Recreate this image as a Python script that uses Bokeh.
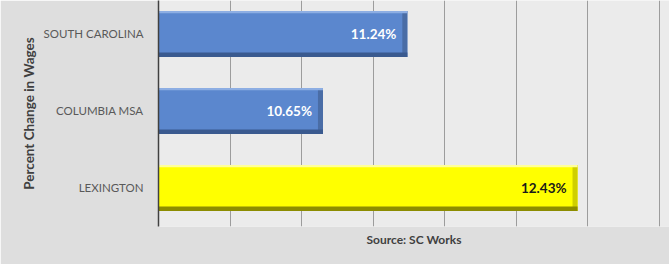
from bokeh.plotting import figure
from bokeh.models import ColumnDataSource, Range1d, FixedTicker, Title
from bokeh.embed import file_html
from bokeh.resources import INLINE
from bokeh.core.properties import value

# ---- data ----
categories = ["SOUTH CAROLINA", "COLUMBIA MSA", "LEXINGTON"]
pct_change = [11.24, 10.65, 12.43]
bar_colors = ["#5B87CE", "#5B87CE", "#FFFF00"]
top_colors = ["#8DAEE3", "#8DAEE3", "#FFFF9A"]
bottom_colors = ["#3A5A8F", "#3A5A8F", "#8C8C00"]
edge_colors = ["#4A6DA6", "#4A6DA6", "#CFCF00"]
label_colors = ["#FFFFFF", "#FFFFFF", "#1A1A1A"]
value_labels = ["11.24%", "10.65%", "12.43%"]
x_ticks = [10.0, 10.5, 11.0, 11.5, 12.0, 12.5, 13.0]

n = len(categories)
ypos = [n - 1 - i for i in range(n)]

src = ColumnDataSource(dict(
    y=ypos, v=pct_change, c=bar_colors, tc=top_colors, bc=bottom_colors,
    ec=edge_colors, lc=label_colors, lab=value_labels,
    y_top=[y + 0.285 for y in ypos], y_bot=[y - 0.27 for y in ypos],
    v_edge=[v - 0.035 for v in pct_change],
))

p = figure(width=669, height=264, output_backend="svg", toolbar_location=None,
           x_range=Range1d(9.5, 13.073), y_range=Range1d(-0.5, 2.435),
           min_border_left=158, min_border_right=0, min_border_top=0,
           min_border_bottom=38)
p.background_fill_color = "#EBEBEB"
p.border_fill_color = "#DEDEDE"
p.outline_line_color = None

# bars with simple bevel
p.hbar(y="y", left=0, right="v", height=0.6, fill_color="c", line_color=None, source=src)
p.hbar(y="y", left="v_edge", right="v", height=0.6, fill_color="ec", line_color=None, source=src)
p.hbar(y="y_top", left=0, right="v", height=0.03, fill_color="tc", line_color=None, source=src)
p.hbar(y="y_bot", left=0, right="v", height=0.06, fill_color="bc", line_color=None, source=src)

p.text(x="v", y="y", text="lab", text_color="lc", source=src,
       text_align="right", text_baseline="middle", x_offset=-11,
       text_font=value("Lato"), text_font_style="bold", text_font_size="13.5px")

# grid
p.xgrid.ticker = FixedTicker(ticks=x_ticks)
p.xgrid.grid_line_color = "#9C9C9C"
p.ygrid.grid_line_color = None

# x axis hidden; source note below the frame
p.xaxis.visible = False
src_title = Title(text="Source: SC Works", align="center", text_font="Lato",
                  text_font_style="bold", text_font_size="12px",
                  text_color="#404040", standoff=6)
p.add_layout(src_title, "below")

# y axis
ya = p.yaxis[0]
ya.ticker = FixedTicker(ticks=ypos)
ya.major_label_overrides = {y: categories[i] for i, y in enumerate(ypos)}
ya.major_label_text_font = "Lato"
ya.major_label_text_font_size = "11.5px"
ya.major_label_text_color = "#595959"
ya.major_label_standoff = 9
ya.major_tick_line_color = None
ya.minor_tick_line_color = None
ya.axis_line_color = "#404040"
ya.axis_line_width = 1.5
ya.axis_label = "Percent Change in Wages"
ya.axis_label_text_font = "Lato"
ya.axis_label_text_font_style = "bold"
ya.axis_label_text_font_size = "13.5px"
ya.axis_label_text_color = "#404040"
ya.axis_label_standoff = 4

open("out.html", "w").write(file_html(p, INLINE))
